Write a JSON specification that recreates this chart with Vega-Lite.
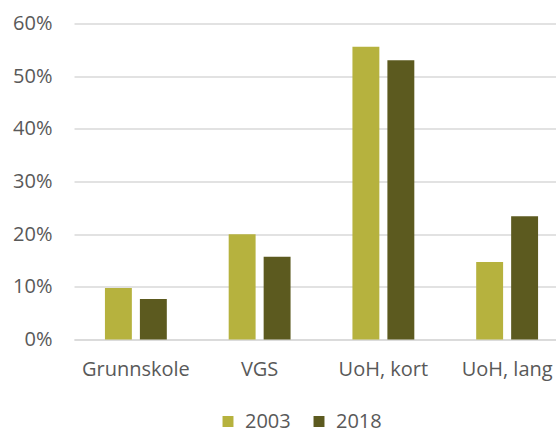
{
  "$schema": "https://vega.github.io/schema/vega-lite/v6.json",
  "width": 482,
  "height": 316,
  "autosize": {"type": "none"},
  "padding": {"left": 74, "top": 23.5, "right": 0, "bottom": 92.5},
  "background": "white",
  "data": {
    "values": [
      {"kategori": "Grunnskole", "år": "2003", "andel": 0.098},
      {"kategori": "Grunnskole", "år": "2018", "andel": 0.077},
      {"kategori": "VGS", "år": "2003", "andel": 0.200},
      {"kategori": "VGS", "år": "2018", "andel": 0.157},
      {"kategori": "UoH, kort", "år": "2003", "andel": 0.556},
      {"kategori": "UoH, kort", "år": "2018", "andel": 0.530},
      {"kategori": "UoH, lang", "år": "2003", "andel": 0.147},
      {"kategori": "UoH, lang", "år": "2018", "andel": 0.234}
    ]
  },
  "mark": {"type": "bar"},
  "encoding": {
    "x": {
      "field": "kategori",
      "type": "nominal",
      "sort": ["Grunnskole", "VGS", "UoH, kort", "UoH, lang"],
      "scale": {"paddingInner": 0.5, "paddingOuter": 0.25, "range": [0, 495]},
      "axis": {
        "title": null,
        "labelAngle": 0,
        "ticks": false,
        "domain": true,
        "domainColor": "#d9d9d9",
        "domainWidth": 1.5,
        "labelFont": "Open Sans",
        "labelFontSize": 20,
        "labelColor": "#595959",
        "labelPadding": 20
      }
    },
    "xOffset": {
      "field": "år",
      "type": "nominal",
      "scale": {"paddingInner": 0.23, "paddingOuter": 0}
    },
    "y": {
      "field": "andel",
      "type": "quantitative",
      "scale": {"domain": [0, 0.6], "nice": false},
      "axis": {
        "title": null,
        "format": ".0%",
        "values": [0, 0.1, 0.2, 0.3, 0.4, 0.5, 0.6],
        "ticks": false,
        "domain": false,
        "grid": true,
        "gridColor": "#d9d9d9",
        "gridWidth": 1.5,
        "labelFont": "Open Sans",
        "labelFontSize": 20,
        "labelColor": "#595959",
        "labelPadding": 22
      }
    },
    "color": {
      "field": "år",
      "type": "nominal",
      "scale": {"domain": ["2003", "2018"], "range": ["#b6b23e", "#5c5a1f"]},
      "legend": {
        "title": null,
        "orient": "none",
        "direction": "horizontal",
        "legendX": 144,
        "legendY": 388,
        "symbolType": "square",
        "symbolSize": 120,
        "symbolStrokeWidth": 0,
        "labelFont": "Open Sans",
        "labelFontSize": 20,
        "labelColor": "#595959",
        "labelOffset": 7,
        "columnPadding": 18
      }
    }
  },
  "config": {"view": {"stroke": null}}
}
